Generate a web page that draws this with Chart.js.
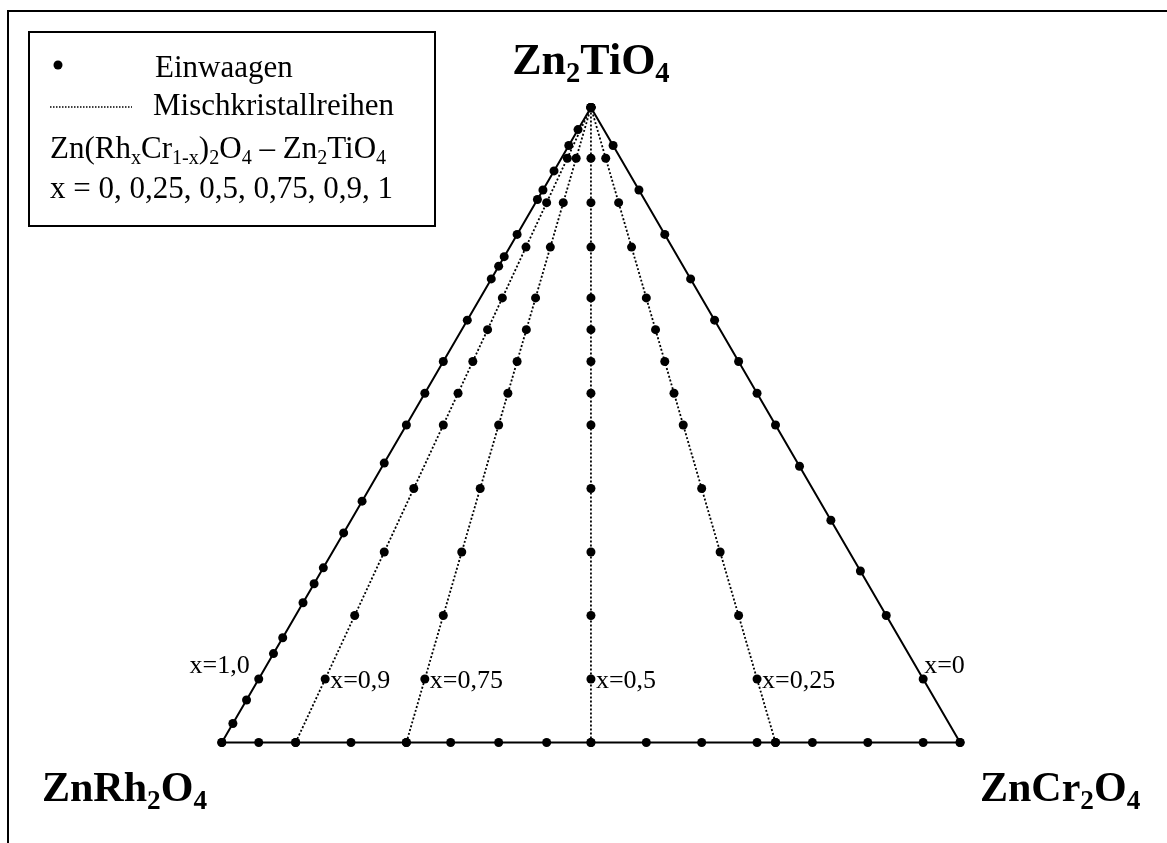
<!DOCTYPE html>
<html>
<head>
<meta charset="utf-8">
<title>Zn(RhxCr1-x)2O4 – Zn2TiO4</title>
<script src="https://cdn.jsdelivr.net/npm/chart.js"></script>
<style>
  html, body { margin: 0; padding: 0; background: #fff; }
  canvas { display: block; }
</style>
</head>
<body>
<canvas id="ternary" width="1167" height="843"></canvas>
<script>
// Rh share x of each solid solution series (Zn(RhxCr1-x)2O4 end member)
const seriesX = [1, 0.9, 0.75, 0.5, 0.25, 0];
const seriesLabels = ['x=1,0', 'x=0,9', 'x=0,75', 'x=0,5', 'x=0,25', 'x=0'];

// Zn2TiO4 mole fraction of the weighed samples along each series
const tiX100 = [0, 0.03, 0.067, 0.1, 0.14, 0.165, 0.22, 0.25, 0.275, 0.33, 0.38, 0.44, 0.5,
                0.55, 0.6, 0.665, 0.73, 0.75, 0.765, 0.8, 0.855, 0.87, 0.9, 0.94, 0.965, 1];
const tiX090 = [0, 0.1, 0.2, 0.3, 0.4, 0.5, 0.55, 0.6, 0.65, 0.7, 0.78, 0.85, 0.92, 1];
const tiX075 = [0, 0.1, 0.2, 0.3, 0.4, 0.5, 0.55, 0.6, 0.65, 0.7, 0.78, 0.85, 0.92, 1];
const tiX050 = [0, 0.1, 0.2, 0.3, 0.4, 0.5, 0.55, 0.6, 0.65, 0.7, 0.78, 0.85, 0.92, 1];
const tiX025 = [0, 0.1, 0.2, 0.3, 0.4, 0.5, 0.55, 0.6, 0.65, 0.7, 0.78, 0.85, 0.92, 1];
const tiX000 = [0, 0.1, 0.2, 0.27, 0.35, 0.435, 0.5, 0.55, 0.6, 0.665, 0.73, 0.8, 0.87, 0.94, 1];

// samples without Zn2TiO4, given as Rh share on the ZnRh2O4–ZnCr2O4 edge
const baseRh = [1, 0.95, 0.9, 0.825, 0.75, 0.69, 0.625, 0.56, 0.5, 0.425, 0.35,
                0.275, 0.25, 0.2, 0.125, 0.05, 0];

const seriesTi = [tiX100, tiX090, tiX075, tiX050, tiX025, tiX000];

// ternary -> cartesian: ZnRh2O4 at (0,0), ZnCr2O4 at (1,0), Zn2TiO4 at (0.5,1)
function toXY(rh, ti) {
  return { x: (1 - rh) * (1 - ti) + 0.5 * ti, y: ti };
}

const SERIF = '"Liberation Serif", "Times New Roman", serif';

const datasets = seriesX.map((rh, i) => {
  const edge = rh === 1 || rh === 0;
  return {
    label: seriesLabels[i],
    data: seriesTi[i].map(t => toXY(rh, t)),
    showLine: true,
    borderColor: '#000',
    borderWidth: edge ? 2 : 1.8,
    borderDash: edge ? [] : [2, 2],
    pointRadius: 4.5,
    pointBackgroundColor: '#000',
    pointBorderWidth: 0,
    clip: false
  };
});
datasets.push({
  label: 'base',
  data: baseRh.map(r => toXY(r, 0)),
  showLine: true,
  borderColor: '#000',
  borderWidth: 2,
  pointRadius: 4.5,
  pointBackgroundColor: '#000',
  pointBorderWidth: 0,
  clip: false
});

// text with sub-scripted parts: [[text, isSub], ...]
function drawRich(ctx, parts, x, y, size, bold, align) {
  const font = s => (bold ? 'bold ' : '') + s + 'px ' + SERIF;
  let w = 0;
  parts.forEach(([t, sub]) => {
    ctx.font = font(sub ? size * 0.65 : size);
    w += ctx.measureText(t).width;
  });
  let cx = align === 'center' ? x - w / 2 : x;
  ctx.textAlign = 'left';
  ctx.textBaseline = 'alphabetic';
  parts.forEach(([t, sub]) => {
    ctx.font = font(sub ? size * 0.65 : size);
    ctx.fillText(t, cx, sub ? y + size * 0.18 : y);
    cx += ctx.measureText(t).width;
  });
}

const decorations = {
  id: 'decorations',
  beforeDatasetsDraw(chart) {
    const ctx = chart.ctx;
    ctx.save();
    ctx.strokeStyle = '#000';
    ctx.lineWidth = 2;
    // page frame (top and left)
    ctx.beginPath();
    ctx.moveTo(8, 843);
    ctx.lineTo(8, 11);
    ctx.lineTo(1167, 11);
    ctx.stroke();
    ctx.restore();
  },
  afterDatasetsDraw(chart) {
    const ctx = chart.ctx;
    const xs = chart.scales.x, ys = chart.scales.y;
    ctx.save();
    ctx.fillStyle = '#000';

    // corner compounds
    const apex = toXY(0, 1);
    drawRich(ctx, [['Zn'], ['2', 1], ['TiO'], ['4', 1]],
      xs.getPixelForValue(apex.x), 74, 44, true, 'center');
    drawRich(ctx, [['ZnRh'], ['2', 1], ['O'], ['4', 1]], 42, 801, 42, true, 'left');
    drawRich(ctx, [['ZnCr'], ['2', 1], ['O'], ['4', 1]], 980, 801, 42, true, 'left');

    // series labels next to the point at 10 % Zn2TiO4
    ctx.font = '26px ' + SERIF;
    ctx.textBaseline = 'alphabetic';
    seriesX.forEach((rh, i) => {
      const p = toXY(rh, 0.1);
      const px = xs.getPixelForValue(p.x), py = ys.getPixelForValue(p.y);
      if (rh === 1) {
        ctx.textAlign = 'right';
        ctx.fillText(seriesLabels[i], px - 9, py - 6);
      } else if (rh === 0) {
        ctx.textAlign = 'left';
        ctx.fillText(seriesLabels[i], px + 1, py - 6);
      } else {
        ctx.textAlign = 'left';
        ctx.fillText(seriesLabels[i], px + 5, py + 9);
      }
    });

    // legend box
    ctx.strokeStyle = '#000';
    ctx.lineWidth = 2;
    ctx.strokeRect(29, 32, 406, 194);
    ctx.beginPath();
    ctx.arc(58, 65, 4.5, 0, Math.PI * 2);
    ctx.fill();
    ctx.font = '31px ' + SERIF;
    ctx.textAlign = 'left';
    ctx.fillText('Einwaagen', 155, 77);
    ctx.fillText('Mischkristallreihen', 153, 115);
    ctx.lineWidth = 1.5;
    ctx.setLineDash([1.5, 1.5]);
    ctx.beginPath();
    ctx.moveTo(50, 107);
    ctx.lineTo(132, 107);
    ctx.stroke();
    ctx.setLineDash([]);
    drawRich(ctx, [['Zn(Rh'], ['x', 1], ['Cr'], ['1-x', 1], [')'], ['2', 1], ['O'], ['4', 1],
      [' – Zn'], ['2', 1], ['TiO'], ['4', 1]], 50, 158, 31, false, 'left');
    ctx.font = '31px ' + SERIF;
    ctx.fillText('x = 0, 0,25, 0,5, 0,75, 0,9, 1', 50, 198);
    ctx.restore();
  }
};

new Chart(document.getElementById('ternary').getContext('2d'), {
  type: 'scatter',
  data: { datasets },
  options: {
    responsive: false,
    animation: false,
    devicePixelRatio: 1,
    layout: { padding: 0 },
    plugins: { legend: { display: false }, tooltip: { enabled: false } },
    scales: {
      x: { type: 'linear', display: false, min: -219 / 744, max: (1167 - 219) / 744 },
      y: { type: 'linear', display: false, min: -(843 - 746) / 642, max: 1 + 104 / 642 }
    }
  },
  plugins: [decorations]
});
</script>
</body>
</html>
